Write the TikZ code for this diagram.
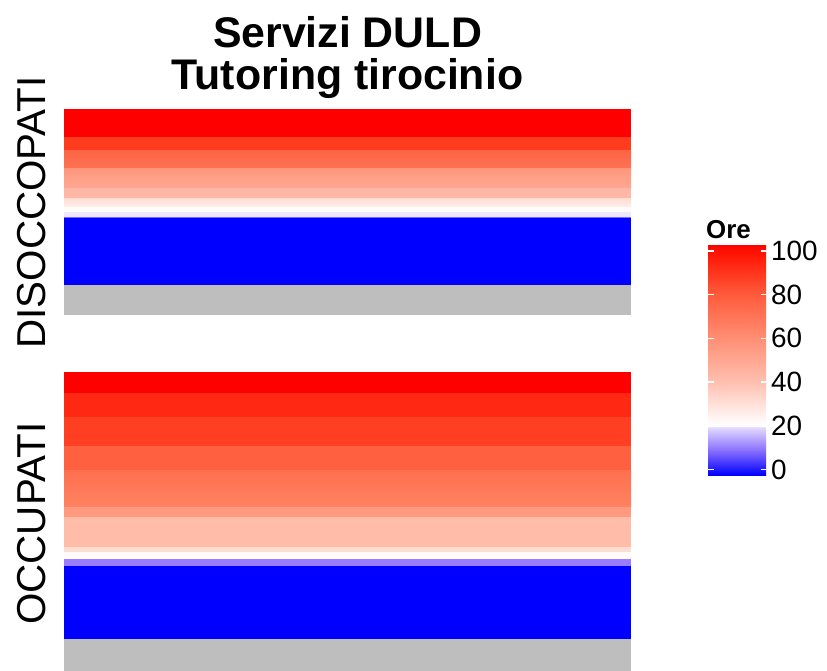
\documentclass[tikz,border=0pt]{standalone}
\usepackage{fontspec}
\setmainfont{Liberation Sans}
\definecolor{gr}{HTML}{BEBEBE}
\definecolor{lav}{HTML}{E4DCFF}
\definecolor{bmid}{HTML}{8A70FF}
\definecolor{wpink}{HTML}{FFF8F6}
\definecolor{l40}{HTML}{FFC0B0}
\definecolor{l60}{HTML}{FF8E74}
\definecolor{l80}{HTML}{FF5A3A}
\definecolor{l100}{HTML}{FF1000}
\pgfdeclareverticalshading{legbar}{100bp}{color(0bp)=(blue); color(25bp)=(blue); color(30.4bp)=(bmid); color(35.4bp)=(lav); color(35.6bp)=(white); color(37bp)=(wpink); color(45.2bp)=(l40); color(54.8bp)=(l60); color(64.4bp)=(l80); color(73.7bp)=(l100); color(75bp)=(red); color(100bp)=(red)}
\begin{document}
\begin{tikzpicture}[x=1bp,y=-1bp,
  ttl/.style={font=\bfseries\fontsize{43}{45}\selectfont, anchor=base},
  ylab/.style={font=\fontsize{40.5}{42}\selectfont, rotate=90, anchor=base},
  leglab/.style={font=\fontsize{28}{30}\selectfont, anchor=west, inner sep=0pt},
  tickw/.style={white, line width=1.5bp}]
\useasboundingbox (0,0) rectangle (827,671);
\fill[white] (0,0) rectangle (827,671);
\newcommand{\band}[3]{\definecolor{gbc}{HTML}{#3}\fill[gbc] (64,#1) rectangle (631,#2);}
\newcommand{\gband}[4]{\definecolor{gbt}{HTML}{#3}\definecolor{gbb}{HTML}{#4}\fill[top color=gbt, bottom color=gbb] (64,#1) rectangle (631,#2);}
% top panel
\band{109}{137.3}{FF0000}
\band{137}{150.3}{FF3C1E}
\gband{150}{168.3}{FF6445}{FF7254}
\gband{168}{188.3}{FF967C}{FFA892}
\band{188}{198.3}{FFB8A6}
\gband{198}{207.3}{FFDDD3}{FFF0EB}
\band{207}{212.3}{FFFBFA}
\band{212}{217.3}{EEE8FF}
\band{217}{218.3}{7766FF}
\band{218}{285.3}{0000FF}
\band{285}{315}{BEBEBE}
% bottom panel
\band{372}{393.3}{FF0000}
\band{393}{417.3}{FF2812}
\band{417}{446.3}{FF3F22}
\band{446}{470.3}{FF6040}
\gband{470}{507.3}{FF7050}{FF8262}
\band{507}{517.3}{FF9A7E}
\band{517}{547.3}{FFBCA8}
\band{547}{552.3}{FFDCD0}
\band{552}{559.3}{FFFCFB}
\band{559}{566.3}{9A7CFF}
\band{566}{639.3}{0000FF}
\band{639}{671}{BEBEBE}
% titles
\node[ttl] (t1) at (347.5,48) {Servizi DULD};
\node[ttl] (t2) at (347.5,90) {Tutoring tirocinio};
\node[ylab] (dis) at (45,212.5) {DISOCCOPATI};
\node[ylab] (occ) at (45,523.5) {OCCUPATI};
% legend
\node[font=\bfseries\fontsize{26}{28}\selectfont, anchor=base west, inner sep=0pt] (ore) at (706,238) {Ore};
\fill[shading=legbar] (708,245) rectangle (766,475);
\foreach \v/\yy in {100/251,80/294.6,60/338.3,40/382,20/425.7,0/469.4} {
  \draw[tickw] (708,\yy) -- (713.5,\yy);
  \draw[tickw] (760.5,\yy) -- (766,\yy);
  \node[leglab] (lab\v) at (771,\yy) {\v};
}
\end{tikzpicture}
\end{document}
